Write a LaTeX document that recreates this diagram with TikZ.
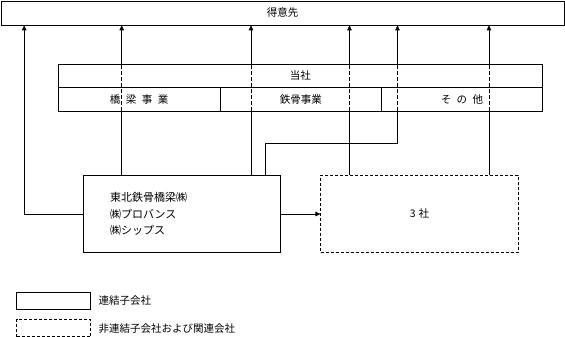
\documentclass[tikz,border=0pt]{standalone}
\usepackage{fontspec}
\setmainfont{Noto Sans CJK JP}
\usetikzlibrary{arrows.meta}

\begin{document}
\begin{tikzpicture}[x=1pt, y=-1pt, >={Triangle[length=5pt,width=4.5pt]},
    font=\fontsize{10.5}{12}\selectfont,
    box/.style={draw, rectangle, line width=0.6pt, inner sep=0pt},
    dbox/.style={box, dash pattern=on 3pt off 2pt},
    link/.style={line width=0.6pt},
    hidden/.style={link, dash pattern=on 4pt off 2pt}]
  \useasboundingbox (0,0) rectangle (565,337);

  % Nodes
  \node [box, minimum width=563pt, minimum height=24pt] (customer) at (282.5,13) {得意先};

  \node [box, minimum width=484pt, minimum height=23.3pt] (tosha) at (300.3,75.65) {当社};
  \node [box, minimum width=161.7pt, minimum height=23.7pt] (bridge) at (139.15,99.15) {橋\hspace{5.5pt}梁\hspace{5.5pt}事\hspace{5.5pt}業};
  \node [box, minimum width=161.7pt, minimum height=23.7pt] (steel) at (300.85,99.15) {鉄骨事業};
  \node [box, minimum width=160.6pt, minimum height=23.7pt] (misc) at (462,99.15) {そ\hspace{5.5pt}の\hspace{5.5pt}他};

  \node [box, minimum width=196.7pt, minimum height=77.4pt, text width=143.3pt, inner xsep=26.7pt, align=left,
         font=\fontsize{11}{16.7}\selectfont] (subs) at (181.65,214) {東北鉄骨橋梁㈱\\㈱プロバンス\\㈱シップス};
  \node [dbox, minimum width=197.6pt, minimum height=77.4pt] (others) at (419.5,214) {3\hspace{3pt}社};

  % Legend
  \node [box, minimum width=74pt, minimum height=17pt] (keysolid) at (53.7,300.8) {};
  \node [anchor=west] (keysolidtext) at (95,301) {連結子会社};
  \node [dbox, minimum width=74pt, minimum height=17.4pt] (keydashed) at (53.7,328) {};
  \node [anchor=west] (keydashedtext) at (95,329) {非連結子会社および関連会社};

  % Paths
  \foreach \px/\src in {121.7/subs, 251/subs, 349.5/others, 489/others} {
    \coordinate (p) at (\px,0);
    \draw[link] (\src.north -| p) -- (bridge.south -| p);
    \draw[hidden] (bridge.south -| p) -- (tosha.north -| p);
    \draw[link, ->] (tosha.north -| p) -- (customer.south -| p);
  }

  \coordinate (bend) at (265,143.3);
  \coordinate (p5) at (397.5,0);
  \draw[link] (subs.north -| bend) -- (bend) -| (bridge.south -| p5);
  \draw[hidden] (bridge.south -| p5) -- (tosha.north -| p5);
  \draw[link, ->] (tosha.north -| p5) -- (customer.south -| p5);

  \draw[link, ->] (subs.west) -| ([xshift=23.5pt]customer.south west);
  \draw[link, ->] (subs) -- (others);
\end{tikzpicture}
\end{document}
